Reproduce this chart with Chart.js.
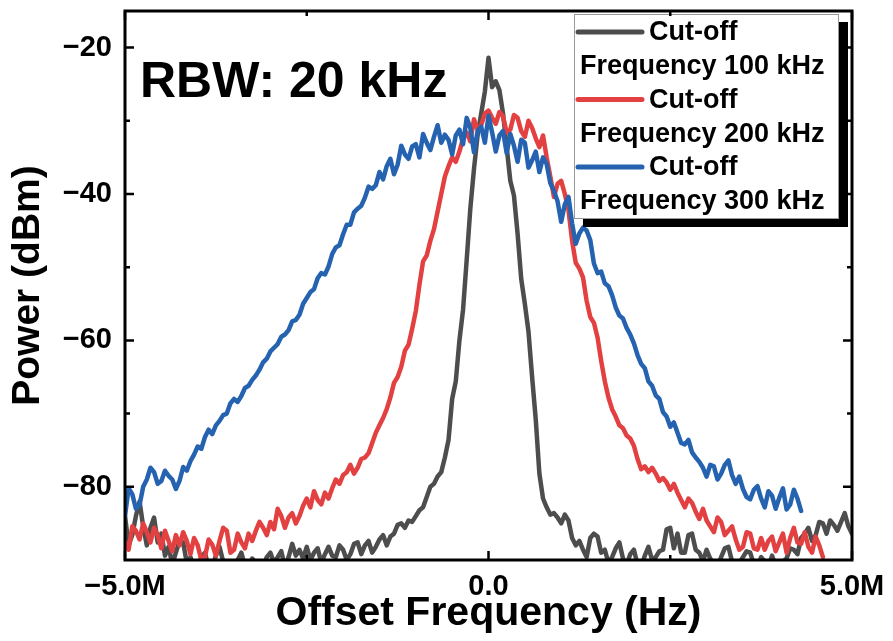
<!DOCTYPE html>
<html><head><meta charset="utf-8">
<script src="https://cdn.jsdelivr.net/npm/chart.js@4"></script>
<style>html,body{margin:0;padding:0;background:#fff}</style>
</head><body>
<canvas id="c" width="893" height="641"></canvas>
<script>
// Offset frequency, MHz
const freqMHz = [
-5.00,-4.95,-4.90,-4.85,-4.80,-4.75,-4.70,-4.65,-4.60,-4.55,
-4.50,-4.45,-4.40,-4.35,-4.30,-4.25,-4.20,-4.15,-4.10,-4.05,
-4.00,-3.95,-3.90,-3.85,-3.80,-3.75,-3.70,-3.65,-3.60,-3.55,
-3.50,-3.45,-3.40,-3.35,-3.30,-3.25,-3.20,-3.15,-3.10,-3.05,
-3.00,-2.95,-2.90,-2.85,-2.80,-2.75,-2.70,-2.65,-2.60,-2.55,
-2.50,-2.45,-2.40,-2.35,-2.30,-2.25,-2.20,-2.15,-2.10,-2.05,
-2.00,-1.95,-1.90,-1.85,-1.80,-1.75,-1.70,-1.65,-1.60,-1.55,
-1.50,-1.45,-1.40,-1.35,-1.30,-1.25,-1.20,-1.15,-1.10,-1.05,
-1.00,-0.95,-0.90,-0.85,-0.80,-0.75,-0.70,-0.65,-0.60,-0.55,
-0.50,-0.45,-0.40,-0.35,-0.30,-0.25,-0.20,-0.15,-0.10,-0.05,
0.00,0.05,0.10,0.15,0.20,0.25,0.30,0.35,0.40,0.45,
0.50,0.55,0.60,0.65,0.70,0.75,0.80,0.85,0.90,0.95,
1.00,1.05,1.10,1.15,1.20,1.25,1.30,1.35,1.40,1.45,
1.50,1.55,1.60,1.65,1.70,1.75,1.80,1.85,1.90,1.95,
2.00,2.05,2.10,2.15,2.20,2.25,2.30,2.35,2.40,2.45,
2.50,2.55,2.60,2.65,2.70,2.75,2.80,2.85,2.90,2.95,
3.00,3.05,3.10,3.15,3.20,3.25,3.30,3.35,3.40,3.45,
3.50,3.55,3.60,3.65,3.70,3.75,3.80,3.85,3.90,3.95,
4.00,4.05,4.10,4.15,4.20,4.25,4.30,4.35,4.40,4.45,
4.50,4.55,4.60,4.65,4.70,4.75,4.80,4.85,4.90,4.95,
5.00];

// Power (dBm), cut-off frequency 100 kHz
const cut100 = [
-84.0,-88.0,-86.6,-84.0,-82.0,-85.4,-88.0,-85.6,-84.2,-87.6,
-86.4,-89.4,-88.2,-90.6,-89.0,-87.4,-87.6,-90.4,-89.6,-91.0,
-91.0,-89.6,-89.0,-91.0,-91.0,-89.4,-88.2,-90.2,-90.6,-91.0,
-91.0,-90.0,-89.0,-90.8,-91.0,-89.8,-90.4,-91.0,-91.0,-89.6,
-89.0,-90.4,-89.6,-88.8,-91.0,-89.6,-87.8,-89.4,-88.6,-89.8,
-88.2,-90.0,-89.0,-88.4,-90.4,-89.2,-88.2,-89.4,-89.6,-88.0,
-88.6,-90.0,-89.2,-87.8,-87.6,-89.2,-88.0,-87.4,-89.0,-88.2,
-87.2,-86.6,-88.0,-86.8,-86.4,-85.2,-85.0,-85.6,-84.6,-84.8,
-84.0,-83.2,-82.8,-81.4,-80.0,-79.6,-78.6,-78.0,-76.0,-73.6,
-68.0,-65.6,-60.0,-55.8,-49.0,-42.0,-36.6,-32.0,-29.0,-26.0,
-21.4,-25.4,-24.6,-25.8,-29.0,-33.6,-38.2,-40.2,-45.4,-51.6,
-55.0,-58.8,-65.0,-70.8,-78.2,-81.6,-82.8,-83.8,-83.6,-84.2,
-85.0,-83.8,-84.6,-87.0,-88.0,-87.4,-88.6,-89.6,-87.0,-86.4,
-86.8,-89.0,-88.6,-90.4,-89.6,-88.4,-87.6,-89.8,-90.6,-89.2,
-88.6,-90.6,-91.0,-89.4,-88.2,-90.0,-89.6,-88.8,-88.6,-85.8,
-85.6,-88.4,-86.4,-89.0,-89.0,-86.6,-86.4,-88.6,-89.0,-90.2,
-88.6,-89.8,-90.6,-91.0,-89.6,-88.4,-88.2,-90.2,-91.0,-90.4,
-89.6,-88.8,-89.0,-90.6,-91.0,-89.6,-90.2,-91.0,-89.4,-90.8,
-91.0,-90.2,-89.8,-88.4,-88.6,-89.2,-87.0,-86.4,-85.6,-87.4,
-86.6,-84.8,-85.0,-86.4,-84.6,-85.2,-86.0,-84.8,-83.6,-85.4,
-86.4];

// Power (dBm), cut-off frequency 200 kHz
const cut200 = [
-87.5,-88.6,-85.4,-86.0,-87.2,-85.0,-86.2,-87.6,-85.6,-86.6,
-88.4,-86.0,-87.4,-88.8,-86.6,-88.0,-86.2,-87.4,-89.2,-87.0,
-88.0,-90.0,-89.6,-87.2,-87.9,-89.4,-87.4,-85.6,-86.0,-89.0,
-88.6,-86.4,-87.6,-88.4,-86.4,-87.4,-86.0,-84.8,-85.6,-86.6,
-84.8,-85.8,-83.0,-84.0,-85.6,-84.2,-83.6,-85.0,-84.0,-82.6,
-81.6,-82.8,-80.6,-81.8,-82.4,-80.8,-81.6,-80.2,-79.0,-79.6,
-78.4,-78.0,-77.0,-78.2,-77.4,-76.2,-76.0,-75.4,-74.0,-72.6,
-71.6,-70.6,-69.4,-67.8,-65.8,-65.0,-63.6,-61.4,-60.6,-58.4,
-56.0,-52.4,-49.2,-48.4,-46.4,-44.8,-42.4,-40.0,-37.6,-36.2,
-35.0,-35.6,-34.2,-32.4,-31.6,-32.8,-29.8,-31.2,-30.6,-29.0,
-28.6,-29.6,-30.4,-28.8,-29.4,-31.6,-31.2,-29.2,-29.6,-31.4,
-32.2,-30.0,-31.0,-32.4,-33.6,-32.0,-35.0,-37.6,-40.4,-38.6,
-38.2,-40.0,-42.2,-46.4,-49.4,-50.2,-51.4,-54.6,-56.8,-57.6,
-59.6,-62.8,-65.6,-67.8,-69.4,-70.4,-71.6,-72.0,-73.0,-73.4,
-74.4,-76.2,-77.6,-77.2,-78.0,-77.4,-78.2,-79.2,-78.8,-79.4,
-80.4,-79.6,-80.8,-81.8,-82.8,-81.6,-82.2,-83.4,-84.4,-83.0,
-84.6,-85.4,-86.2,-84.2,-84.8,-86.6,-86.0,-85.4,-87.2,-88.6,
-88.2,-86.2,-86.4,-88.4,-88.6,-87.0,-88.6,-87.4,-86.8,-88.8,
-87.6,-86.4,-89.0,-87.0,-85.6,-87.6,-87.8,-86.2,-88.2,-89.0,
-86.8,-88.0,-89.6,null,null,null,null,null,null,null,
null];

// Power (dBm), cut-off frequency 300 kHz
const cut300 = [
-84.0,-80.2,-81.0,-83.0,-82.5,-80.0,-79.0,-77.4,-78.0,-79.6,
-79.2,-77.8,-78.5,-79.0,-80.3,-79.2,-77.3,-77.8,-76.5,-75.6,
-74.5,-74.8,-73.2,-72.2,-72.8,-71.6,-71.0,-70.2,-70.0,-68.6,
-68.0,-68.4,-67.6,-66.5,-66.2,-65.4,-64.8,-64.0,-63.0,-62.5,
-61.5,-61.0,-60.5,-59.5,-59.2,-58.6,-57.4,-57.2,-56.5,-55.0,
-54.2,-53.4,-53.0,-51.5,-50.8,-51.0,-49.9,-48.2,-47.3,-47.0,
-45.5,-44.2,-44.2,-42.5,-42.0,-41.6,-40.5,-39.0,-39.3,-38.8,
-37.0,-38.0,-36.2,-35.2,-37.3,-36.0,-33.4,-34.6,-35.2,-33.5,
-33.2,-35.0,-31.8,-33.0,-34.0,-32.2,-30.6,-33.0,-31.9,-32.6,
-34.6,-32.0,-31.2,-33.2,-29.6,-31.0,-34.3,-31.4,-30.8,-33.0,
-29.3,-31.6,-34.2,-32.0,-31.4,-34.4,-31.8,-33.4,-35.6,-32.6,
-33.0,-36.4,-35.4,-34.2,-37.0,-35.0,-35.9,-38.5,-39.6,-41.0,
-43.8,-41.4,-40.4,-44.0,-46.8,-45.4,-44.6,-45.0,-46.3,-49.5,
-50.8,-50.6,-52.2,-52.6,-53.8,-55.5,-56.6,-57.0,-58.3,-59.2,
-60.4,-62.0,-63.2,-63.8,-65.6,-66.2,-67.5,-68.0,-69.8,-70.4,
-71.8,-71.2,-72.6,-74.0,-74.2,-73.6,-75.3,-76.0,-76.6,-77.4,
-78.6,-77.0,-77.2,-79.0,-78.2,-77.0,-76.4,-78.4,-79.6,-78.6,
-80.3,-81.4,-81.7,-80.4,-79.9,-81.6,-82.8,-80.6,-81.2,-83.0,
-81.5,-80.2,-83.1,-82.4,-80.4,-81.6,-83.3,null,null,null,
null,null,null,null,null,null,null,null,null,null,
null];

const seriesLine1 = ['Cut-off', 'Cut-off', 'Cut-off'];
const seriesLine2 = ['Frequency 100 kHz', 'Frequency 200 kHz', 'Frequency 300 kHz'];
const seriesColors = ['#4d4d4d', '#e34141', '#2563b0'];

const xTickValues = [-5, 0, 5];
const xTickLabels = ['\u22125.0M', '0.0', '5.0M'];
const xMinorTicks = [-2.5, 2.5];
const yTickValues = [-80, -60, -40, -20];
const yTickLabels = ['\u221280', '\u221260', '\u221240', '\u221220'];
const yMinorTicks = [-70, -50, -30];
const xTitle = 'Offset Frequency (Hz)';
const yTitle = 'Power (dBm)';
const noteText = 'RBW: 20 kHz';

const FONT = '"Liberation Sans", Arial, Helvetica, sans-serif';

function pts(arr) { return freqMHz.map((f, i) => ({x: f, y: arr[i] === undefined ? null : arr[i]})); }

const decor = {
  id: 'decor',
  afterDraw(chart) {
    const {ctx, chartArea: a, scales: {x, y}} = chart;
    ctx.save();
    // annotation
    ctx.fillStyle = '#000';
    ctx.font = 'bold 50px ' + FONT;
    ctx.textBaseline = 'alphabetic';
    ctx.textAlign = 'left';
    ctx.fillText(noteText, a.left + 15, a.top + 86);

    // legend
    const bx = a.right - 278, by = a.top + 3, bw = 264, bh = 204;
    ctx.fillStyle = '#000';
    ctx.fillRect(bx + 9, by + 8, bw + 1, bh + 1);
    ctx.fillStyle = '#fff';
    ctx.fillRect(bx, by, bw, bh);
    ctx.strokeStyle = '#9a9a9a';
    ctx.lineWidth = 1;
    ctx.strokeRect(bx + 0.5, by + 0.5, bw, bh);
    ctx.font = 'bold 27px ' + FONT;
    ctx.textBaseline = 'middle';
    for (let i = 0; i < 3; i++) {
      const ly = by + 18 + i * 67.5;
      ctx.strokeStyle = seriesColors[i];
      ctx.lineWidth = 5;
      ctx.lineCap = 'round';
      ctx.beginPath();
      ctx.moveTo(bx + 4, ly);
      ctx.lineTo(bx + 68, ly);
      ctx.stroke();
      ctx.fillStyle = '#000';
      ctx.fillText(seriesLine1[i], bx + 75, ly + 1);
      ctx.fillText(seriesLine2[i], bx + 6, ly + 35);
    }

    // frame
    ctx.lineCap = 'butt';
    ctx.strokeStyle = '#000';
    ctx.lineWidth = 3;
    ctx.strokeRect(a.left, a.top, a.right - a.left, a.bottom - a.top);
    // ticks (inward, mirrored)
    ctx.lineWidth = 2.5;
    const major = 9, minor = 5;
    const xt = (v, len) => {
      const px = x.getPixelForValue(v);
      ctx.beginPath();
      ctx.moveTo(px, a.bottom); ctx.lineTo(px, a.bottom - len);
      ctx.moveTo(px, a.top); ctx.lineTo(px, a.top + len);
      ctx.stroke();
    };
    const yt = (v, len) => {
      const py = y.getPixelForValue(v);
      ctx.beginPath();
      ctx.moveTo(a.left, py); ctx.lineTo(a.left + len, py);
      ctx.moveTo(a.right, py); ctx.lineTo(a.right - len, py);
      ctx.stroke();
    };
    xTickValues.forEach(v => xt(v, major));
    xMinorTicks.forEach(v => xt(v, minor));
    yTickValues.forEach(v => yt(v, major));
    yMinorTicks.forEach(v => yt(v, minor));
    ctx.restore();
  }
};

new Chart(document.getElementById('c'), {
  type: 'line',
  data: {
    datasets: [
      {label: seriesLine1[0] + ' ' + seriesLine2[0], data: pts(cut100), borderColor: seriesColors[0], order: 3},
      {label: seriesLine1[1] + ' ' + seriesLine2[1], data: pts(cut200), borderColor: seriesColors[1], order: 2},
      {label: seriesLine1[2] + ' ' + seriesLine2[2], data: pts(cut300), borderColor: seriesColors[2], order: 1}
    ]
  },
  options: {
    responsive: false,
    animation: false,
    devicePixelRatio: 1,
    layout: {padding: {left: 0, top: 11, right: 41, bottom: 0}},
    elements: {
      line: {borderWidth: 4.5, tension: 0, borderJoinStyle: 'round', borderCapStyle: 'round'},
      point: {radius: 0}
    },
    datasets: {line: {clip: 0, spanGaps: false}},
    plugins: {legend: {display: false}, tooltip: {enabled: false}},
    scales: {
      x: {
        type: 'linear', min: -5, max: 5,
        grid: {display: false, drawTicks: false},
        border: {display: false},
        afterBuildTicks: s => { s.ticks = xTickValues.map(v => ({value: v})); },
        afterFit: s => { s.height = 81; s.paddingLeft = 0; s.paddingRight = 0; },
        ticks: {
          padding: 10, color: '#000', maxRotation: 0, autoSkip: false,
          font: {family: FONT, size: 29, weight: 'bold'},
          callback: v => xTickLabels[xTickValues.indexOf(v)]
        },
        title: {display: true, text: xTitle, color: '#000', padding: {top: 0, bottom: 3},
          font: {family: FONT, size: 41, weight: 'bold'}}
      },
      y: {
        type: 'linear', min: -90, max: -15,
        grid: {display: false, drawTicks: false},
        border: {display: false},
        afterBuildTicks: s => { s.ticks = yTickValues.map(v => ({value: v})); },
        afterFit: s => { s.width = 125; s.paddingTop = 0; s.paddingBottom = 0; },
        ticks: {
          padding: 13, color: '#000', autoSkip: false,
          font: {family: FONT, size: 29, weight: 'bold'},
          callback: v => yTickLabels[yTickValues.indexOf(v)]
        },
        title: {display: true, text: yTitle, color: '#000', padding: {top: 5, bottom: 0},
          font: {family: FONT, size: 39, weight: 'bold'}}
      }
    }
  },
  plugins: [decor]
});
</script>
</body></html>
